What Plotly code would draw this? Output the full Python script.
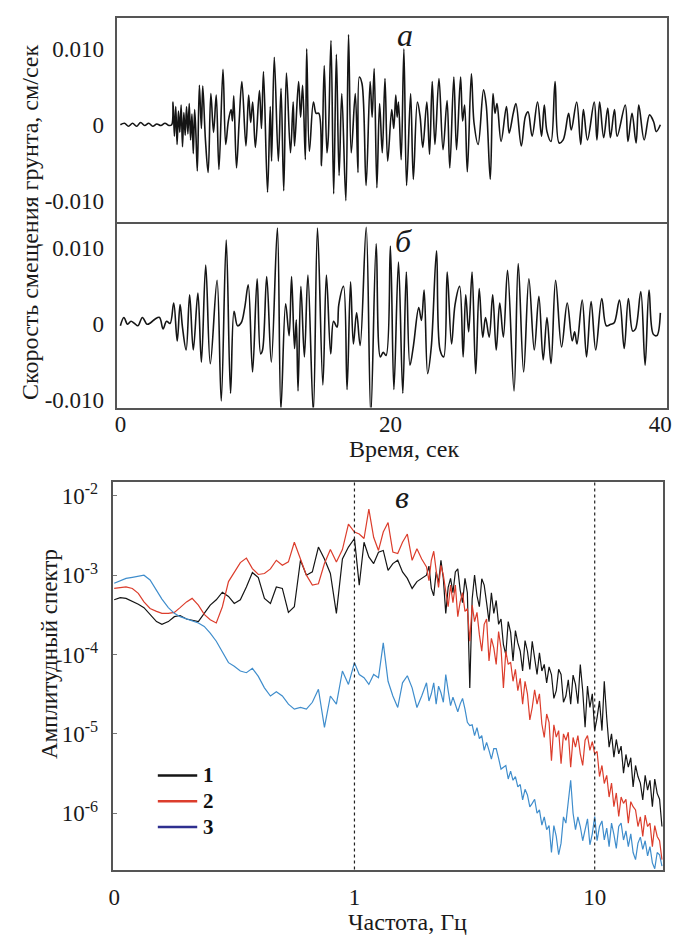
import plotly.graph_objects as go

# ---------------- data ----------------
# Panel "а": ground velocity, cm/s, vs time, s
time_a = [0.0, 0.3, 0.6, 0.9, 1.2, 1.5, 1.8, 2.1, 2.4, 2.7, 3.0, 3.3, 3.6, 3.8,
          3.9, 4.0, 4.1, 4.2, 4.3, 4.4, 4.5, 4.6, 4.7, 4.8, 4.9, 5.0, 5.1, 5.2, 5.3, 5.4, 5.5, 5.6,
          5.7, 5.85, 6.0, 6.1, 6.3, 6.5, 6.7, 6.9, 7.1, 7.3, 7.6, 7.8, 8.0, 8.2, 8.3, 8.4, 8.6, 8.8,
          9.0, 9.3, 9.5, 9.65, 9.8, 10.0, 10.3, 10.45, 10.6, 10.9, 11.1, 11.2, 11.4, 11.7, 11.9,
          12.1, 12.3, 12.6, 12.8, 12.9, 13.2, 13.35, 13.5, 13.7, 13.8, 14.0, 14.3, 14.5, 14.7, 14.9,
          15.1, 15.3, 15.4, 15.6, 15.8, 16.0, 16.2, 16.4, 16.7, 16.9, 17.1, 17.4, 17.6, 17.7, 17.9,
          18.2, 18.5, 18.65, 18.8, 19.0, 19.2, 19.4, 19.6, 19.8, 20.1, 20.25, 20.4, 20.5, 20.6, 20.8,
          21.0, 21.2, 21.5, 21.7, 22.0, 22.2, 22.4, 22.7, 22.9, 23.1, 23.3, 23.6, 23.9, 24.2, 24.4,
          24.7, 24.9, 25.2, 25.35, 25.5, 25.7, 26.0, 26.2, 26.5, 26.9, 27.1, 27.4, 27.6, 27.75, 27.9,
          28.2, 28.6, 28.8, 29.1, 29.3, 29.7, 30.0, 30.2, 30.5, 30.9, 31.2, 31.4, 31.6, 31.9, 32.2,
          32.5, 32.8, 33.2, 33.4, 33.8, 34.1, 34.3, 34.6, 35.1, 35.3, 35.5, 35.8, 36.1, 36.3, 36.6,
          36.8, 37.4, 37.6, 37.9, 38.2, 38.4, 38.8, 39.2, 39.5, 39.7, 40.0]
velocity_a = [0.0, 0.0002, -0.0002, 0.0002, -0.0002, 0.0003, -0.0001, 0.0002, -0.0002, 0.0001, -0.0001, 0.0002, -0.0001, 0.0,
              0.0030, -0.0015, 0.0024, -0.0026, 0.0018, -0.0010, 0.0026, -0.0029, 0.0016, -0.0014, 0.0024, -0.0012, 0.0028, -0.0020, 0.0014, -0.0038, 0.0020, -0.0015,
              -0.0061, 0.0052, -0.0005, 0.0051, -0.0020, -0.0063, 0.0041, -0.0010, 0.0039, -0.0059, 0.0073, -0.0026, 0.0005, 0.0020, 0.0005, 0.0038, -0.0057, 0.0005,
              0.0057, -0.0028, 0.0039, 0.0003, 0.0030, -0.0030, 0.0045, -0.0005, 0.0070, -0.0089, 0.0024, -0.0048, 0.0089, -0.0048, 0.0048,
              -0.0087, 0.0068, -0.0037, 0.0030, -0.0028, 0.0057, 0.0010, 0.0052, -0.0046, 0.0100, -0.0035, 0.0030, 0.0015, 0.0015, -0.0054,
              0.0078, -0.0037, -0.0017, 0.0111, -0.0091, 0.0093, -0.0067, 0.0041, -0.0100, 0.0119, -0.0037, 0.0041, -0.0063, 0.0063, 0.0054,
              -0.0080, 0.0057, 0.0010, 0.0074, -0.0083, 0.0028, -0.0037, 0.0061, -0.0048, 0.0020, -0.0005, 0.0039, 0.0010, 0.0030, -0.0046,
              0.0100, -0.0080, 0.0041, -0.0072, 0.0030, 0.0011, -0.0030, 0.0030, -0.0039, 0.0057, -0.0026, 0.0061, -0.0033, 0.0032, -0.0057,
              0.0063, -0.0033, 0.0063, 0.0005, 0.0026, -0.0062, 0.0067, 0.0002, -0.0026, 0.0046, 0.0026, -0.0072, 0.0041, 0.0015, 0.0028,
              -0.0022, 0.0024, -0.0011, 0.0015, 0.0028, -0.0028, 0.0011, 0.0017, -0.0015, 0.0030, -0.0015, 0.0026, -0.0009, -0.0022, 0.0057,
              -0.0024, -0.0020, 0.0015, -0.0007, 0.0030, -0.0026, 0.0020, -0.0020, 0.0030, -0.0020, 0.0030, -0.0017, 0.0022, -0.0017, 0.0020,
              -0.0015, 0.0026, -0.0022, 0.0015, -0.0024, 0.0026, -0.0020, 0.0013, 0.0004, -0.0009, 0.0]

# Panel "б": ground velocity, cm/s, vs time, s
time_b = [0.0, 0.26, 0.53, 0.79, 1.05, 1.3, 1.63, 1.97, 2.24, 2.58, 2.9, 3.16, 3.42, 3.68,
          3.95, 4.21, 4.42, 4.6, 4.87, 5.13, 5.4, 5.74, 6.0, 6.32, 6.66, 7.16, 7.47, 7.84, 8.16,
          8.42, 8.68, 8.95, 9.21, 9.47, 9.79, 10.13, 10.39, 10.53, 10.84, 11.18, 11.63, 11.89,
          12.24, 12.5, 12.68, 12.9, 13.03, 13.16, 13.37, 13.63, 13.89, 14.29, 14.6, 15.0, 15.26,
          15.58, 15.79, 16.05, 16.18, 16.53, 16.79, 17.05, 17.26, 17.5, 17.76, 18.21, 18.55, 18.95,
          19.26, 19.47, 19.68, 20.0, 20.26, 20.6, 20.92, 21.18, 21.45, 21.71, 22.1, 22.3, 22.5,
          22.76, 23.03, 23.42, 23.68, 23.95, 24.21, 24.53, 24.79, 25.13, 25.39, 25.58, 25.8, 26.05,
          26.32, 26.58, 26.84, 27.05, 27.32, 27.58, 27.84, 28.1, 28.37, 28.68, 29.16, 29.47, 29.87,
          30.26, 30.66, 31.0, 31.32, 31.6, 31.9, 32.24, 32.68, 33.1, 33.47, 33.65, 33.82, 34.21,
          34.53, 34.87, 35.21, 35.66, 36.0, 36.32, 36.58, 36.97, 37.32, 37.63, 37.95, 38.16, 38.55,
          38.87, 39.16, 39.47, 39.74, 40.0]
velocity_b = [-0.0002, 0.0009, 0.0, 0.0004, 0.0001, -0.0002, 0.0009, 0.0, 0.0002, 0.0007, 0.0009, -0.0006, 0.0004, 0.0001,
              0.0028, -0.0022, 0.0026, -0.0004, -0.0034, 0.0039, -0.0034, 0.0041, -0.0050, 0.0078, -0.0052, 0.0058, -0.0101, 0.0111, -0.0091,
              0.0017, -0.0002, 0.0002, 0.0022, 0.0052, -0.0063, 0.0060, -0.0039, -0.0034, 0.0063, -0.0050, 0.0127, -0.0112,
              0.0027, -0.0015, 0.0063, -0.0032, 0.0006, -0.0088, 0.0050, -0.0043, 0.0065, -0.0116, 0.0127, -0.0080, 0.0065,
              -0.0039, 0.0004, -0.0004, 0.0026, 0.0050, -0.0086, 0.0056, -0.0026, 0.0015, -0.0028, 0.0128, -0.0119, 0.0106,
              -0.0043, -0.0037, -0.0041, 0.0103, -0.0086, 0.0082, -0.0091, 0.0069, -0.0054, -0.0028, 0.0022, 0.0005, 0.0045,
              -0.0065, -0.0030, 0.0097, -0.0034, -0.0043, 0.0069, -0.0026, 0.0026, 0.0050, -0.0043, 0.0039, -0.0010, 0.0069,
              -0.0065, 0.0047, -0.0017, 0.0009, -0.0017, 0.0039, -0.0034, 0.0028, -0.0017, 0.0071, -0.0088, 0.0080, -0.0063,
              0.0060, -0.0034, 0.0037, -0.0047, 0.0009, -0.0052, 0.0058, -0.0030, 0.0028, -0.0022, -0.0010, -0.0026, 0.0032,
              -0.0043, 0.0030, -0.0034, 0.0034, -0.0002, 0.0, 0.0002, 0.0032, -0.0032, 0.0034, -0.0009, -0.0006, 0.0043,
              -0.0054, 0.0045, -0.0013, -0.0015, 0.0015]

# Panel "в": amplitude spectra vs frequency, Hz (main readings)
frequency = [0.100, 0.106, 0.112, 0.119, 0.126, 0.133, 0.141, 0.150, 0.158, 0.168, 0.178, 0.188, 0.200, 0.211,
             0.224, 0.237, 0.251, 0.266, 0.282, 0.299, 0.316, 0.335, 0.355, 0.376, 0.398, 0.422, 0.447, 0.473,
             0.501, 0.531, 0.562, 0.596, 0.631, 0.668, 0.708, 0.750, 0.794, 0.841, 0.891, 0.944, 1.000,
             1.047, 1.096, 1.148, 1.202, 1.259, 1.318, 1.380, 1.445, 1.514, 1.585, 1.660, 1.738, 1.820, 1.905,
             1.995, 2.089, 2.188, 2.291, 2.399, 2.512, 2.630, 2.754, 2.884, 3.020, 3.162, 3.311, 3.467, 3.631,
             3.802, 3.981, 4.169, 4.365, 4.571, 4.786, 5.012, 5.248, 5.495, 5.754, 6.026, 6.310, 6.607, 6.918,
             7.244, 7.586, 7.943, 8.318, 8.710, 9.120, 9.550, 10.00, 10.47, 10.96, 11.48, 12.02, 12.59, 13.18,
             13.80, 14.45, 15.14, 15.85, 16.60, 17.38, 18.20, 19.05]
spectrum_1 = [4.9e-4, 5.2e-4, 5.1e-4, 4.7e-4, 4.3e-4, 3.9e-4, 3.2e-4, 2.6e-4, 2.4e-4, 2.6e-4, 3.0e-4, 3.1e-4, 2.8e-4, 2.7e-4,
              2.6e-4, 3.3e-4, 4.2e-4, 4.9e-4, 6.1e-4, 5.4e-4, 4.4e-4, 4.9e-4, 7.1e-4, 1.08e-3, 9.3e-4, 5.1e-4, 4.4e-4, 7.1e-4,
              6.8e-4, 3.4e-4, 4.0e-4, 1.54e-3, 1.0e-3, 1.1e-3, 2.26e-3, 1.6e-3, 1.05e-3, 3.3e-4, 1.6e-3, 2.26e-3, 2.9e-3,
              7.5e-4, 2.6e-3, 1.7e-3, 1.4e-3, 1.95e-3, 2.05e-3, 1.15e-3, 1.4e-3, 1.54e-3, 1.1e-3, 9.1e-4, 6.8e-4, 8.3e-4, 9.1e-4,
              1.0e-3, 6.8e-4, 1.1e-3, 1.54e-3, 3.3e-4, 9.1e-4, 1.1e-3, 6.5e-4, 9.1e-4, 3.8e-5, 1.0e-3, 4.0e-4, 7.5e-4, 2.6e-4,
              3.3e-4, 2.4e-4, 1.33e-4, 2.6e-4, 8.3e-5, 1.4e-4, 6.2e-5, 1.1e-4, 1.47e-4, 5.6e-5, 6.2e-5, 4.4e-5, 5.6e-5, 3.5e-5,
              5.6e-5, 3.0e-5, 2.37e-5, 4.2e-5, 7.5e-5, 1.21e-5, 2.15e-5, 1.1e-5, 2.6e-5, 4.6e-5, 6.8e-6, 5.1e-6, 5.6e-6, 3.2e-6,
              3.8e-6, 2.15e-6, 2.9e-6, 1.47e-6, 1.96e-6, 1.21e-6, 1.78e-6, 6.8e-7]
spectrum_2 = [6.8e-4, 7.0e-4, 7.1e-4, 6.8e-4, 5.9e-4, 4.6e-4, 3.8e-4, 3.5e-4, 3.3e-4, 3.3e-4, 3.4e-4, 3.9e-4, 4.6e-4, 5.1e-4,
              4.2e-4, 3.2e-4, 2.75e-4, 2.5e-4, 4.0e-4, 8.3e-4, 1.1e-3, 1.44e-3, 1.64e-3, 1.21e-3, 1.02e-3, 1.05e-3, 1.2e-3, 1.54e-3,
              1.33e-3, 1.47e-3, 2.6e-3, 1.58e-3, 1.0e-3, 7.5e-4, 7.8e-4, 1.4e-3, 2.1e-3, 1.47e-3, 2.1e-3, 4.4e-3, 3.5e-3,
              3.3e-3, 2.9e-3, 6.8e-3, 3.0e-3, 2.05e-3, 3.5e-3, 4.6e-3, 1.95e-3, 1.87e-3, 2.6e-3, 3.3e-3, 1.54e-3, 2.15e-3, 1.6e-3,
              1.27e-3, 1.54e-3, 1.15e-3, 1.33e-3, 6.2e-4, 7.5e-4, 7.5e-4, 4.6e-4, 3.5e-4, 1.47e-4, 2.6e-4, 1.78e-4, 2.4e-4, 8.3e-5,
              1.21e-4, 1.95e-4, 3.8e-5, 7.5e-5, 4.6e-5, 3.5e-5, 2.37e-5, 3.2e-5, 2.15e-5, 2.37e-5, 1.33e-5, 1.78e-5, 4.6e-6, 9.1e-6,
              4.2e-6, 8.3e-6, 3.8e-6, 6.8e-6, 5.6e-6, 8.3e-6, 6.2e-6, 5.6e-6, 2.9e-6, 2.37e-6, 1.6e-6, 1.21e-6, 9.1e-7, 1.33e-6,
              7.5e-7, 1.21e-6, 6.8e-7, 5.1e-7, 6.8e-7, 3.8e-7, 5.1e-7, 2.6e-7]
spectrum_3 = [7.9e-4, 8.5e-4, 9.1e-4, 9.4e-4, 9.6e-4, 1.0e-3, 8.7e-4, 6.5e-4, 5.0e-4, 3.9e-4, 3.3e-4, 3.0e-4, 2.8e-4, 2.7e-4,
              2.5e-4, 2.26e-4, 1.86e-4, 1.47e-4, 1.1e-4, 7.9e-5, 7.1e-5, 6.2e-5, 5.9e-5, 6.7e-5, 5.3e-5, 3.8e-5, 3.0e-5, 3.4e-5,
              3.0e-5, 2.37e-5, 2.05e-5, 2.15e-5, 2.05e-5, 2.5e-5, 3.65e-5, 1.21e-5, 3.0e-5, 2.37e-5, 6.2e-5, 4.2e-5, 7.9e-5,
              5.6e-5, 5.1e-5, 4.2e-5, 5.6e-5, 5.1e-5, 1.4e-4, 4.6e-5, 3.0e-5, 2.15e-5, 4.4e-5, 5.4e-5, 3.8e-5, 2.15e-5, 3.0e-5,
              4.4e-5, 3.2e-5, 2.37e-5, 3.3e-5, 5.6e-5, 2.27e-5, 2.27e-5, 2.37e-5, 2.05e-5, 1.27e-5, 9.5e-6, 8.7e-6, 6.2e-6, 6.2e-6,
              6.5e-6, 4.9e-6, 3.8e-6, 2.7e-6, 2.6e-6, 2.15e-6, 1.47e-6, 1.7e-6, 1.33e-6, 1.0e-6, 7.1e-7, 6.2e-7, 3.2e-7, 5.1e-7,
              4.2e-7, 7.5e-7, 2.6e-6, 6.2e-7, 6.8e-7, 6.5e-7, 4.0e-7, 9.1e-7, 6.8e-7, 4.6e-7, 3.8e-7, 5.4e-7, 6.8e-7, 4.6e-7,
              3.8e-7, 3.2e-7, 4.2e-7, 3.5e-7, 2.9e-7, 2.37e-7, 3.2e-7, 2.15e-7]

# extra readings of the noisy band above ~2 Hz
frequency_extra = [2.042, 2.138, 2.239, 2.344, 2.455, 2.570, 2.692, 2.818, 2.951, 3.090, 3.236, 3.388, 3.548,
                   3.715, 3.890, 4.074, 4.266, 4.467, 4.677, 4.898, 5.129, 5.370, 5.623, 5.888, 6.166, 6.457,
                   6.761, 7.079, 7.413, 7.762, 8.128, 8.511, 8.913, 9.333, 9.772, 10.23, 10.72, 11.22, 11.75,
                   12.30, 12.88, 13.49, 14.13, 14.79, 15.49, 16.22, 16.98, 17.78, 18.62]
spectrum_1_extra = [1.3e-3, 5.5e-4, 8.0e-4, 9.0e-4, 7.0e-4, 6.0e-4, 1.2e-3, 4.5e-4, 6.0e-4, 5.0e-4, 5.5e-4, 9.0e-4, 4.5e-4,
                    6.0e-4, 4.8e-4, 2.8e-4, 1.0e-4, 1.9e-4, 2.0e-4, 1.1e-4, 1.5e-4, 6.5e-5, 9.0e-5, 1.05e-4, 7.5e-5, 7.0e-5,
                    2.8e-5, 6.5e-5, 2.5e-5, 4.8e-5, 5.5e-5, 2.4e-5, 3.5e-5, 4.0e-5, 3.2e-5, 1.6e-5, 1.1e-5, 1.6e-5, 1.0e-5,
                    8.5e-6, 7.0e-6, 5.5e-6, 5.0e-6, 4.0e-6, 2.4e-6, 3.0e-6, 2.6e-6, 2.7e-6, 1.5e-6]
spectrum_2_extra = [8.5e-4, 2.0e-3, 7.0e-4, 1.0e-3, 4.0e-4, 4.5e-4, 3.0e-4, 6.0e-4, 3.8e-4, 4.2e-4, 3.4e-4, 1.1e-4, 2.8e-4,
                    1.6e-4, 7.5e-5, 1.2e-4, 1.1e-4, 8.0e-5, 6.5e-5, 5.0e-5, 4.6e-5, 1.5e-5, 3.6e-5, 3.2e-5, 9.0e-6, 1.4e-5,
                    1.3e-5, 1.1e-5, 1.0e-5, 1.05e-5, 9.0e-6, 9.5e-6, 4.0e-6, 9.5e-6, 8.0e-6, 6.0e-6, 4.0e-6, 3.0e-6, 2.4e-6,
                    1.8e-6, 1.6e-6, 1.5e-6, 1.4e-6, 1.1e-6, 9.0e-7, 9.5e-7, 7.5e-7, 7.0e-7, 4.5e-7]
spectrum_3_extra = [2.6e-5, 4.4e-5, 4.0e-5, 2.5e-5, 3.5e-5, 2.9e-5, 1.9e-5, 2.8e-5, 1.4e-5, 1.3e-5, 1.2e-5, 9.5e-6, 7.8e-6,
                    4.8e-6, 6.5e-6, 3.6e-6, 4.0e-6, 3.4e-6, 2.9e-6, 2.3e-6, 2.0e-6, 1.2e-6, 1.5e-6, 1.1e-6, 9.0e-7, 7.0e-7,
                    7.0e-7, 3.0e-7, 9.0e-7, 1.4e-6, 1.0e-6, 9.0e-7, 4.5e-7, 8.5e-7, 5.5e-7, 4.5e-7, 8.0e-7, 6.5e-7, 7.5e-7,
                    3.6e-7, 7.5e-7, 6.0e-7, 5.5e-7, 2.6e-7, 5.0e-7, 4.5e-7, 3.8e-7, 2.0e-7, 3.0e-7]

series_names = ["1", "2", "3"]

time_ticks = [0, 20, 40]
velocity_ticks = [-0.01, 0, 0.01]
velocity_tick_text = ["-0.010", "0", "0.010"]
freq_ticks = [0.1, 1, 10]
freq_tick_text = ["0", "1", "10"]
amp_ticks = [1e-6, 1e-5, 1e-4, 1e-3, 1e-2]
amp_tick_text = ["10<sup>-6</sup>", "10<sup>-5</sup>", "10<sup>-4</sup>", "10<sup>-3</sup>", "10<sup>-2</sup>"]


def merge_by_frequency(f_main, v_main, f_extra, v_extra):
    pairs = sorted(zip(f_main + f_extra, v_main + v_extra))
    return [p[0] for p in pairs], [p[1] for p in pairs]


# ---------------- styling ----------------
PAGE_MARGIN = 8              # default <body> margin of the written page
W, H = 680 - PAGE_MARGIN, 942 - PAGE_MARGIN
FONT = "Liberation Serif"
FRAME = "#555555"
C1, C2, C3 = "#151515", "#dc3d2c", "#3f8dcc"
LEGEND_C3 = "#2e2f8f"


def px(x):
    """page pixel x -> paper fraction"""
    return (x - PAGE_MARGIN) / W


def py(y):
    """page pixel y -> paper fraction"""
    return 1 - (y - PAGE_MARGIN) / H


fig = go.Figure()

fig.add_trace(go.Scatter(x=time_a, y=velocity_a, xaxis="x", yaxis="y", mode="lines",
                         line=dict(color=C1, width=1.6, shape="spline", smoothing=1.0),
                         showlegend=False, hoverinfo="skip"))
fig.add_trace(go.Scatter(x=time_b, y=velocity_b, xaxis="x2", yaxis="y2", mode="lines",
                         line=dict(color=C1, width=1.6, shape="spline", smoothing=1.0),
                         showlegend=False, hoverinfo="skip"))

for spec, extra, col, name in [(spectrum_1, spectrum_1_extra, C1, series_names[0]),
                               (spectrum_2, spectrum_2_extra, C2, series_names[1]),
                               (spectrum_3, spectrum_3_extra, C3, series_names[2])]:
    fx, fy = merge_by_frequency(frequency, spec, frequency_extra, extra)
    fig.add_trace(go.Scatter(x=fx, y=fy, xaxis="x3", yaxis="y3", mode="lines", name=name,
                             line=dict(color=col, width=1.2), showlegend=False, hoverinfo="skip"))

line_style = dict(showline=True, linecolor=FRAME, linewidth=1.5, showgrid=False, zeroline=False)
tick_font = dict(family=FONT, size=23, color="#1a1a1a")

top_dom = [px(114), px(672)]
fig.update_layout(
    width=W, height=H,
    margin=dict(l=0, r=0, t=0, b=0),
    paper_bgcolor="white", plot_bgcolor="white",
    font=dict(family=FONT, color="#1a1a1a"),
    showlegend=False,
    xaxis=dict(domain=top_dom, anchor="y", range=[-0.22, 40.5], showticklabels=False,
               ticks="", ticklen=0, mirror=True, **line_style),
    yaxis=dict(domain=[py(222), py(16)], anchor="x", range=[-0.01284, 0.01408],
               tickvals=velocity_ticks, ticktext=velocity_tick_text, tickfont=tick_font,
               ticks="", ticklen=0, ticklabelstandoff=7, mirror=True, **line_style),
    xaxis2=dict(domain=top_dom, anchor="y2", range=[-0.22, 40.5], tickvals=time_ticks,
                tickfont=tick_font, ticks="", ticklen=0, ticklabelstandoff=-5,
                ticklabeloverflow="allow", mirror=False, **line_style),
    yaxis2=dict(domain=[py(409), py(222)], anchor="x2", range=[-0.01098, 0.01346],
                tickvals=velocity_ticks, ticktext=velocity_tick_text, tickfont=tick_font,
                ticks="", ticklen=0, ticklabelstandoff=7, mirror=True, **line_style),
    xaxis3=dict(domain=[px(110), px(668)], anchor="y3", type="log", range=[-1.003, 1.285],
                tickvals=freq_ticks, ticktext=freq_tick_text, tickfont=tick_font,
                ticks="", ticklen=0, ticklabelstandoff=6, ticklabeloverflow="allow",
                mirror=True, **line_style),
    yaxis3=dict(domain=[py(875), py(484)], anchor="x3", type="log", range=[-6.71, -1.825],
                tickvals=amp_ticks, ticktext=amp_tick_text, tickfont=tick_font,
                ticks="inside", ticklen=4, tickcolor="#777777", ticklabelstandoff=9,
                mirror=True, **line_style),
)

# dotted guide lines at 1 Hz and 10 Hz
for f in [1, 10]:
    fig.add_shape(type="line", xref="x3", yref="y3 domain", x0=f, x1=f, y0=0, y1=1,
                  line=dict(color="#222222", width=1.2, dash="dot"))

# legend (drawn by hand to match the tight spacing of the original)
legend_rows = [780, 806, 832]
for name, col, yrow in zip(series_names, [C1, C2, LEGEND_C3], legend_rows):
    fig.add_shape(type="line", xref="paper", yref="paper",
                  x0=px(155), x1=px(195), y0=py(yrow), y1=py(yrow),
                  line=dict(color=col, width=2.5))
    fig.add_annotation(text="<b>%s</b>" % name, x=px(199), y=py(yrow), xref="paper", yref="paper",
                       showarrow=False, xanchor="left", yanchor="middle",
                       font=dict(family=FONT, size=21, color="#111111"))

annotations = [
    dict(text="<i>а</i>", x=px(406), y=py(33), size=32),
    dict(text="<i>б</i>", x=px(404), y=py(241), size=32),
    dict(text="<i>в</i>", x=px(403), y=py(499), size=32),
    dict(text="Время, сек", x=px(405), y=py(451), size=24),
    dict(text="Частота, Гц", x=px(408), y=py(928), size=24),
]
for a in annotations:
    fig.add_annotation(text=a["text"], x=a["x"], y=a["y"], xref="paper", yref="paper",
                       showarrow=False, xanchor="center", yanchor="middle",
                       font=dict(family=FONT, size=a["size"], color="#1a1a1a"))

fig.add_annotation(text="Скорость смещения грунта, см/сек", x=px(25), y=py(222),
                   xref="paper", yref="paper", showarrow=False, textangle=-90,
                   xanchor="center", yanchor="middle",
                   font=dict(family=FONT, size=24, color="#1a1a1a"))
fig.add_annotation(text="Амплитудный спектр", x=px(45), y=py(657),
                   xref="paper", yref="paper", showarrow=False, textangle=-90,
                   xanchor="center", yanchor="middle",
                   font=dict(family=FONT, size=23, color="#1a1a1a"))

fig.write_html("out.html")
